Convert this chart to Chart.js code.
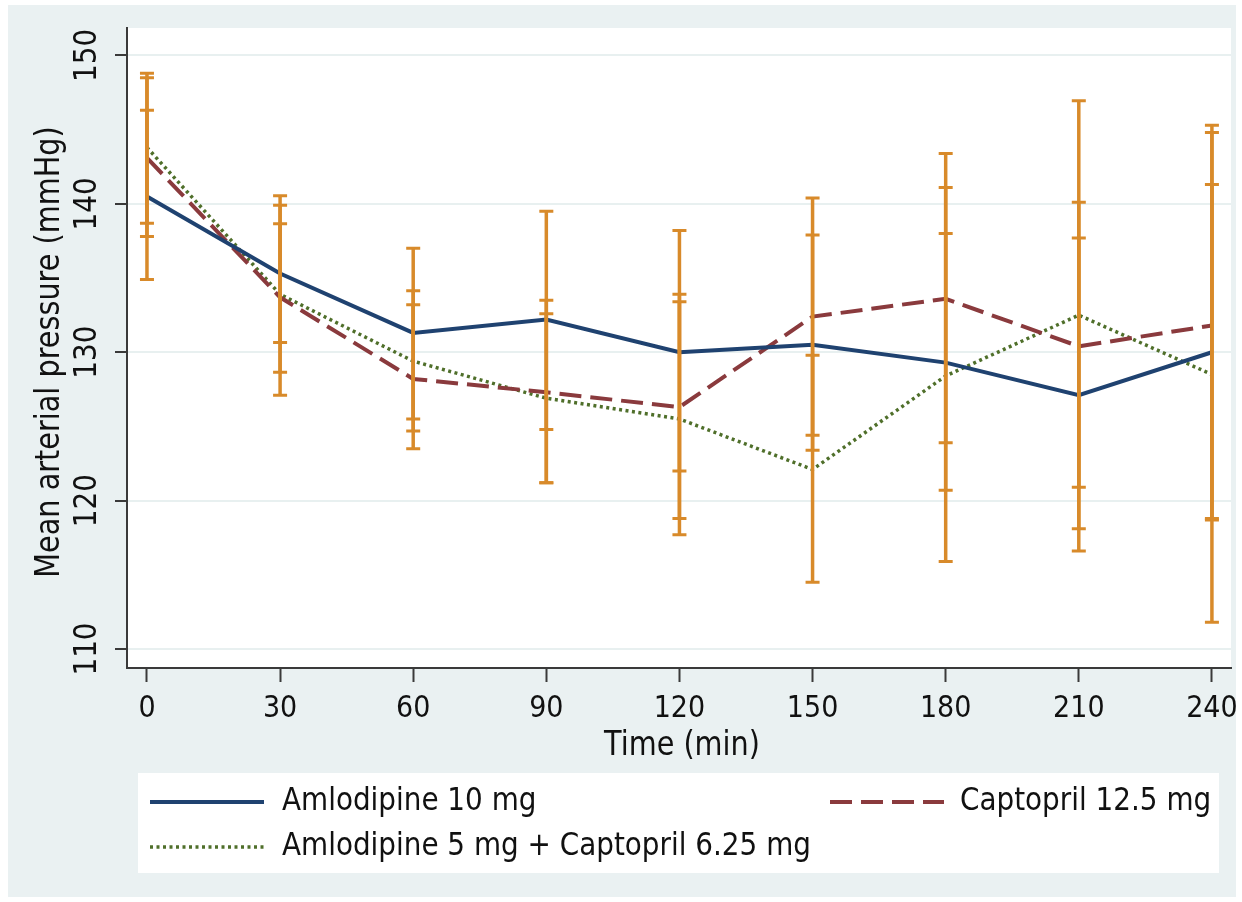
<!DOCTYPE html>
<html>
<head>
<meta charset="utf-8">
<script src="https://cdn.jsdelivr.net/npm/chart.js@4.4.1/dist/chart.umd.min.js"></script>
<style>
html,body{margin:0;padding:0;background:#fff;}
canvas{display:block;}
</style>
</head>
<body>
<canvas id="c" width="1242" height="902"></canvas>
<script>
// ---- data ----
const timePoints = [0, 30, 60, 90, 120, 150, 180, 210, 240];
const yTickValues = [110, 120, 130, 140, 150];
const seriesNames = ["Amlodipine 10 mg", "Captopril 12.5 mg", "Amlodipine 5 mg + Captopril 6.25 mg"];
const xTitle = "Time (min)";
const yTitle = "Mean arterial pressure (mmHg)";

const amlo10Mean  = [140.5, 135.3, 131.3, 132.2, 130.0, 130.5, 129.3, 127.1, 130.0];
const amlo10Low   = [134.9, 130.65, 125.5, 124.8, 122.0, 123.4, 120.7, 116.6, 118.8];
const amlo10High  = [146.3, 139.9, 137.0, 139.5, 138.2, 137.9, 138.0, 137.7, 141.3];

const capto12Mean = [143.1, 133.7, 128.2, 127.3, 126.3, 132.4, 133.6, 130.4, 131.8];
const capto12Low  = [137.8, 128.65, 123.5, 121.2, 118.8, 124.4, 123.9, 120.9, 118.7];
const capto12High = [148.5, 138.65, 133.2, 133.5, 133.9, 140.4, 143.4, 140.1, 144.8];

const comboMean   = [143.8, 133.9, 129.4, 126.9, 125.5, 122.1, 128.4, 132.5, 128.5];
const comboLow    = [138.7, 127.1, 124.7, 121.2, 117.7, 114.5, 115.9, 118.1, 111.8];
const comboHigh   = [148.8, 140.55, 134.15, 132.6, 133.4, 129.8, 141.1, 146.95, 145.3];

// ---- styles ----
const NAVY = '#1f4270', MAROON = '#8a3a3d', GREEN = '#4f6f2a', ORANGE = '#d88a2a';
const BG = '#eaf1f2', TXT = '#111111', AXIS = '#3a3a3a';
const FONT = '"DejaVu Sans", Verdana, sans-serif';
const SX = 0.87;

function pts(arr){ return timePoints.map((t,i)=>({x:t, y:arr[i]})); }

const errorSets = [
  {low: amlo10Low, high: amlo10High},
  {low: capto12Low, high: capto12High},
  {low: comboLow, high: comboHigh}
];

function txt(ctx, s, x, y, size, align, rot){
  ctx.save();
  ctx.translate(x, y);
  if (rot) ctx.rotate(rot);
  ctx.scale(SX, 1);
  ctx.font = size + 'px ' + FONT;
  ctx.fillStyle = TXT;
  ctx.textAlign = align;
  ctx.textBaseline = 'middle';
  ctx.fillText(s, 0, 0);
  ctx.restore();
}

const decor = {
  id: 'decor',
  beforeDraw(chart){
    const ctx = chart.ctx, a = chart.chartArea;
    ctx.save();
    ctx.fillStyle = '#ffffff';
    ctx.fillRect(0, 0, chart.width, chart.height);
    ctx.fillStyle = BG;
    ctx.fillRect(8, 5, 1228, 892);
    ctx.fillStyle = '#ffffff';
    ctx.fillRect(a.left, a.top, a.right - a.left, a.bottom - a.top);
    ctx.restore();
  },
  afterDatasetsDraw(chart){
    const ctx = chart.ctx, xs = chart.scales.x, ys = chart.scales.y;
    ctx.save();
    ctx.strokeStyle = ORANGE;
    ctx.lineCap = 'butt';
    errorSets.forEach(es => {
      timePoints.forEach((t, i) => {
        const px = xs.getPixelForValue(t);
        const yl = ys.getPixelForValue(es.low[i]);
        const yh = ys.getPixelForValue(es.high[i]);
        ctx.lineWidth = 3.5;
        ctx.beginPath();
        ctx.moveTo(px, yl); ctx.lineTo(px, yh);
        ctx.stroke();
        ctx.lineWidth = 3;
        ctx.beginPath();
        ctx.moveTo(px - 7, yl); ctx.lineTo(px + 7, yl);
        ctx.moveTo(px - 7, yh); ctx.lineTo(px + 7, yh);
        ctx.stroke();
      });
    });
    ctx.restore();
  },
  afterDraw(chart){
    const ctx = chart.ctx, xs = chart.scales.x, ys = chart.scales.y, a = chart.chartArea;
    // x tick labels
    timePoints.forEach(t => txt(ctx, String(t), xs.getPixelForValue(t), 709, 31, 'center'));
    // x title
    txt(ctx, xTitle, (a.left + a.right) / 2 + 3, 746, 33, 'center');
    // y tick labels (rotated)
    yTickValues.forEach(v => txt(ctx, String(v), 88, ys.getPixelForValue(v), 32, 'center', -Math.PI/2));
    // y title
    txt(ctx, yTitle, 50, (a.top + a.bottom) / 2 + 4, 33, 'center', -Math.PI/2);
    // legend
    ctx.save();
    ctx.fillStyle = '#ffffff';
    ctx.fillRect(138, 773, 1081, 100);
    const ds = chart.data.datasets;
    const keys = [
      {d: ds[0], x1: 150, x2: 264, y: 802, tx: 282},
      {d: ds[1], x1: 830, x2: 944, y: 802, tx: 960},
      {d: ds[2], x1: 150, x2: 264, y: 847, tx: 282}
    ];
    keys.forEach(k => {
      ctx.save();
      ctx.strokeStyle = k.d.borderColor;
      ctx.lineWidth = k.d.borderWidth;
      ctx.setLineDash(k.d.borderDash || []);
      ctx.lineCap = k.d.borderCapStyle || 'butt';
      ctx.beginPath();
      ctx.moveTo(k.x1, k.y); ctx.lineTo(k.x2, k.y);
      ctx.stroke();
      ctx.restore();
      txt(ctx, k.d.label, k.tx, k.y, 32, 'left');
    });
    ctx.restore();
  }
};

new Chart(document.getElementById('c'), {
  type: 'line',
  data: {
    datasets: [
      {label: seriesNames[0], data: pts(amlo10Mean), borderColor: NAVY, borderWidth: 4, pointRadius: 0, tension: 0, fill: false},
      {label: seriesNames[1], data: pts(capto12Mean), borderColor: MAROON, borderWidth: 4, borderDash: [22, 9], pointRadius: 0, tension: 0, fill: false},
      {label: seriesNames[2], data: pts(comboMean), borderColor: GREEN, borderWidth: 3.5, borderDash: [3, 3.5], pointRadius: 0, tension: 0, fill: false}
    ]
  },
  options: {
    responsive: false,
    animation: false,
    devicePixelRatio: 1,
    layout: {padding: {left: 0, right: 11, top: 28, bottom: 0}},
    plugins: {legend: {display: false}, tooltip: {enabled: false}, title: {display: false}},
    scales: {
      x: {
        type: 'linear', min: -4.5, max: 244.3,
        afterBuildTicks: s => { s.ticks = timePoints.map(v => ({value: v})); },
        afterFit: s => { s.height = 234; },
        ticks: {display: false},
        grid: {display: true, drawOnChartArea: false, drawTicks: true, tickLength: 14, tickColor: AXIS, tickWidth: 2},
        border: {display: true, color: AXIS, width: 2}
      },
      y: {
        type: 'linear', min: 108.72, max: 151.85,
        afterBuildTicks: s => { s.ticks = yTickValues.map(v => ({value: v})); },
        afterFit: s => { s.width = 127; },
        ticks: {display: false},
        grid: {display: true, drawOnChartArea: true, color: '#e8f0f0', lineWidth: 2, drawTicks: true, tickLength: 12, tickColor: AXIS, tickWidth: 2},
        border: {display: true, color: AXIS, width: 2}
      }
    }
  },
  plugins: [decor]
});
</script>
</body>
</html>
